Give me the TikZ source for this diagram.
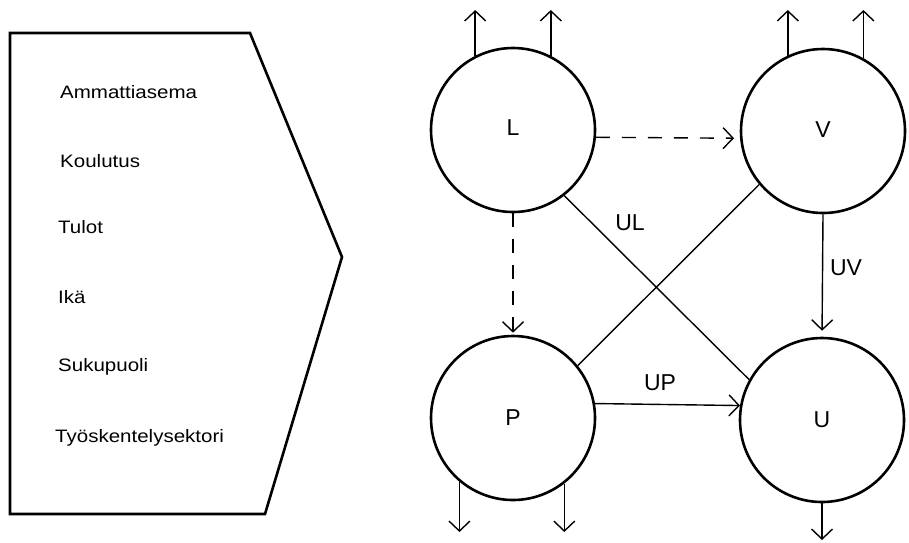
\documentclass[tikz,border=0pt]{standalone}
\usepackage{fontspec}
\setmainfont{Liberation Sans}
\newfontfamily\wideface[FakeStretch=1.14]{Liberation Sans}
\usetikzlibrary{arrows.meta}

\begin{document}
\begin{tikzpicture}[x=1pt,y=-1pt,
    group/.style={circle,draw,line width=2.6pt,minimum size=164pt,inner sep=0pt},
    flow/.style={line width=1.4pt,-{Straight Barb[length=10pt,width=21pt,line width=1.4pt]}},
    every node/.style={font=\fontsize{23}{27}\selectfont}]
    \useasboundingbox (0,0) rectangle (909,542);
    \coordinate (top) at (0,10);
    \coordinate (bot) at (0,532);
    \coordinate (botU) at (0,540);
    % background block
    \draw[line width=2.6pt,line join=miter] (10,33) -- (250,33) -- (342,257) -- (265,514) -- (10,514) -- cycle;
    \foreach \txt/\xx/\yy [count=\i] in {Ammattiasema/60/98, Koulutus/60/167, Tulot/58/233, Ik\"a/58/303, Sukupuoli/58/371, Ty\"oskentelysektori/55/442}
        \node[anchor=base west,inner sep=0pt,font=\wideface\fontsize{18}{21}\selectfont] (f\i) at (\xx,\yy) {\txt};
    % groups
    \node[group] (L) at (513,130) {\raisebox{4pt}{L}};
    \node[group] (V) at (823,131) {\raisebox{2pt}{V}};
    \node[group] (P) at (513,418) {P};
    \node[group] (U) at (822,420) {U};
    \foreach \pt in {L.117, L.63, V.115, V.61} \draw[flow] (\pt) -- (\pt |- top);
    \foreach \pt in {P.-130, P.-52} \draw[flow] (\pt) -- (\pt |- bot);
    \draw[flow] (U.south) -- (U.south |- botU);
    \draw[flow,dash pattern=on 14pt off 12pt,shorten >=6pt] (L.-5) -- (V.185);
    \draw[flow,dash pattern=on 14pt off 12pt,shorten >=2pt] (L.south) -- (P.north);
    \draw[flow,shorten >=6pt] (V.south) -- (U.north);
    \draw[flow] (P.10) -- (U.170);
    \draw[line width=1.4pt] (L.-52) -- (U.151) (V.-140) -- (P.39);
    \node (ul) at (630,223) {UL};
    \node (uv) at (846,268) {UV};
    \node (up) at (660,383) {UP};
\end{tikzpicture}
\end{document}
